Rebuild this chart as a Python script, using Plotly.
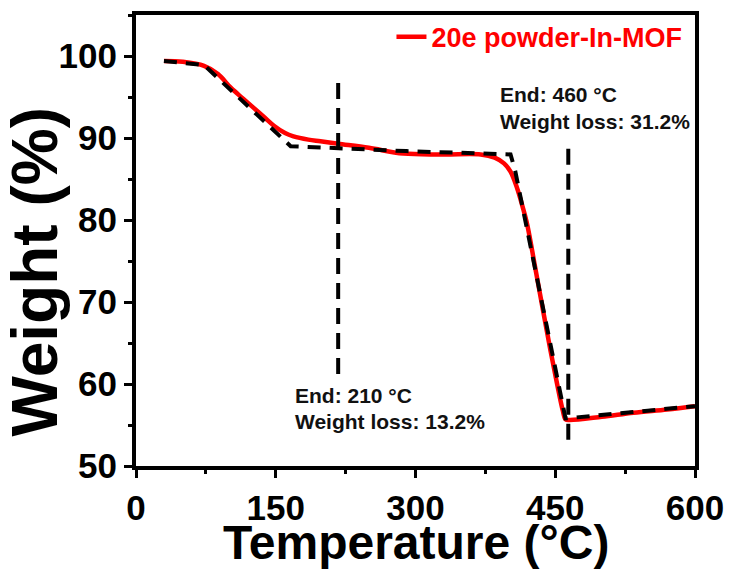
import plotly.graph_objects as go

# TGA curve
temp = [30, 50, 73, 88, 102, 115, 126, 138, 148, 160, 169, 185, 198, 217, 250, 287,
        330, 370, 385, 395, 402, 409, 415, 420, 428, 437, 445, 452, 458, 461, 465,
        500, 534, 570, 600]
weight = [99.4, 99.3, 98.8, 97.8, 96.1, 94.8, 93.7, 92.5, 91.5, 90.6, 90.2, 89.8, 89.6,
          89.3, 88.8, 88.1, 88.0, 88.0, 87.6, 86.9, 85.9, 83.9, 81.6, 79.4, 74.5, 68.9,
          64.0, 60.0, 56.8, 55.7, 55.6, 56.0, 56.5, 56.9, 57.3]

# tangent construction (dashed)
tan_t = [30, 73, 166, 290, 402, 407, 461, 600]
tan_w = [99.4, 98.9, 89.0, 88.4, 88.0, 86.0, 55.8, 57.3]

# end-temperature markers
end1_t = [217, 217]
end1_w = [96.7, 61.0]
end2_t = [464, 464]
end2_w = [88.7, 52.8]

series_name = "20e powder-In-MOF"
x_title = "Temperature (°C)"
y_title = "Weight (%)"
ann1 = ["End: 210 °C", "Weight loss: 13.2%"]
ann2 = ["End: 460 °C", "Weight loss: 31.2%"]

FONT = "Liberation Sans, Arial, sans-serif"

fig = go.Figure()
fig.add_trace(go.Scatter(x=temp, y=weight, mode="lines", name=series_name,
                         line=dict(color="#ff0000", width=4.5), line_shape="spline"))
fig.add_trace(go.Scatter(x=tan_t, y=tan_w, mode="lines", showlegend=False,
                         line=dict(color="black", width=4, dash="13px,9px")))
fig.add_trace(go.Scatter(x=end1_t, y=end1_w, mode="lines", showlegend=False,
                         line=dict(color="black", width=4, dash="16px,9px")))
fig.add_trace(go.Scatter(x=end2_t, y=end2_w, mode="lines", showlegend=False,
                         line=dict(color="black", width=4, dash="16px,9px")))

annfont = dict(family=FONT, size=21, color="#111111", weight="bold")
for txt, yy in zip(ann1, [58.6, 55.4]):
    fig.add_annotation(x=168.5, y=yy, text=txt, showarrow=False, xanchor="left",
                       yanchor="middle", font=annfont)
for txt, yy in zip(ann2, [95.3, 92.0]):
    fig.add_annotation(x=388.6, y=yy, text=txt, showarrow=False, xanchor="left",
                       yanchor="middle", font=annfont)

# axis titles as text placed under / beside the axes
fig.add_annotation(xref="paper", yref="y", x=0, y=73.6, xshift=-101, text=y_title,
                   textangle=-90, showarrow=False, xanchor="center", yanchor="middle",
                   font=dict(family=FONT, size=64, color="black", weight="bold"))
fig.add_annotation(xref="paper", yref="paper", x=0.5, y=0, yshift=-76, text=x_title,
                   showarrow=False, xanchor="center", yanchor="middle",
                   font=dict(family=FONT, size=48, color="black", weight="bold"))

tickfont = dict(family=FONT, size=35, color="black", weight="bold")
fig.update_xaxes(range=[0, 600], tickvals=[0, 150, 300, 450, 600], automargin=False,
                 showline=True, linewidth=4, linecolor="black", mirror=True,
                 ticks="outside", ticklen=8, tickwidth=3, tickcolor="black",
                 minor=dict(dtick=75, ticks="outside", ticklen=4, tickwidth=3, tickcolor="black"),
                 showgrid=False, zeroline=False, tickfont=tickfont)
fig.update_yaxes(range=[50, 105], tickvals=[50, 60, 70, 80, 90, 100], automargin=False,
                 showline=True, linewidth=4, linecolor="black", mirror=True,
                 ticks="outside", ticklen=8, tickwidth=3, tickcolor="black",
                 minor=dict(dtick=5, ticks="outside", ticklen=4, tickwidth=3, tickcolor="black"),
                 showgrid=False, zeroline=False, tickfont=tickfont)

fig.update_layout(width=731, height=570, autosize=False,
                  margin=dict(l=136, r=36, t=15, b=104),
                  paper_bgcolor="white", plot_bgcolor="white",
                  showlegend=True,
                  legend=dict(x=0.457, y=1.005, xanchor="left", yanchor="top",
                              bgcolor="rgba(0,0,0,0)", borderwidth=0,
                              font=dict(family=FONT, size=27, color="#ff0000", weight="bold")))

fig.write_html("out.html")
